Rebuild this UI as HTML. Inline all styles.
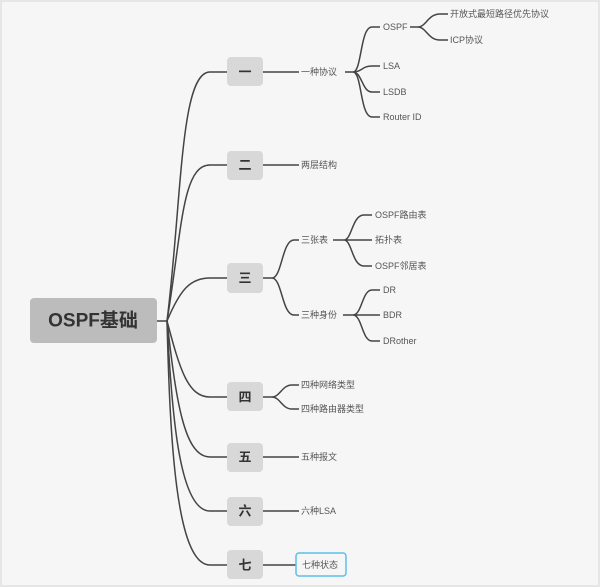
<!DOCTYPE html>
<html><head><meta charset="utf-8"><style>
html,body{margin:0;padding:0;background:#f6f6f6;}
svg{display:block}
text{font-family:"Liberation Sans","Noto Sans CJK SC",sans-serif;fill:#555;font-size:9px;dominant-baseline:central}
</style></head><body>
<svg width="600" height="587" viewBox="0 0 600 587" xmlns="http://www.w3.org/2000/svg">
<rect x="0" y="0" width="600" height="587" fill="#f6f6f6"/>
<rect x="1" y="1" width="598" height="585" fill="none" stroke="#e6e6e6" stroke-width="2"/>
<g fill="none" stroke="#444" stroke-width="1.5">
<path d="M157,321 L167,321"/>
<path d="M167,321 C182,200 180,72 210,72 L227,72"/>
<path d="M167,321 C182,230 182,165 210,165 L227,165"/>
<path d="M167,321 C180,290 190,278 210,278 L227,278"/>
<path d="M167,321 C180,370 188,397 210,397 L227,397"/>
<path d="M167,321 C176,400 184,457 210,457 L227,457"/>
<path d="M167,321 C172,420 180,511 210,511 L227,511"/>
<path d="M167,321 C170,440 176,565 210,565 L227,565"/>
<!-- level 2 -->
<path d="M263,72 L299,72"/>
<path d="M263,165 L299,165"/>
<path d="M263,278 L272,278 M272,278 C282,278 282,240 294,240 L299,240 M272,278 C282,278 282,315 294,315 L299,315"/>
<path d="M263,397 L272,397 M272,397 C280,397 282,385 292,385 L299,385 M272,397 C280,397 282,409 292,409 L299,409"/>
<path d="M263,457 L299,457"/>
<path d="M263,511 L299,511"/>
<path d="M263,565 L296,565"/>
<!-- 一种协议 children -->
<path d="M345,72 L353,72 M353,72 C362,72 360,27 372,27 L380,27 M353,72 C362,72 362,66 372,66 L380,66 M353,72 C362,72 362,92 372,92 L380,92 M353,72 C362,72 360,117 372,117 L380,117"/>
<path d="M410,27 L418,27 M418,27 C426,27 428,14 440,14 L448,14 M418,27 C426,27 428,40 440,40 L448,40"/>
<!-- 三张表 -->
<path d="M333,240 L344,240 M344,240 C352,240 352,215 364,215 L372,215 M344,240 L372,240 M344,240 C352,240 352,266 364,266 L372,266"/>
<!-- 三种身份 -->
<path d="M343,315 L353,315 M353,315 C362,315 362,290 372,290 L380,290 M353,315 L380,315 M353,315 C362,315 362,341 372,341 L380,341"/>
</g>
<rect x="30" y="298" width="127" height="45" rx="4" fill="#bcbcbc"/>
<text x="93" y="321" text-anchor="middle" style="font-size:19px;font-weight:bold;fill:#333">OSPF基础</text>
<g fill="#d8d8d8">
<rect x="227" y="57" width="36" height="29" rx="4"/>
<rect x="227" y="151" width="36" height="29" rx="4"/>
<rect x="227" y="263" width="36" height="30" rx="4"/>
<rect x="227" y="382" width="36" height="29" rx="4"/>
<rect x="227" y="443" width="36" height="29" rx="4"/>
<rect x="227" y="497" width="36" height="29" rx="4"/>
<rect x="227" y="550" width="36" height="29" rx="4"/>
</g>
<g style="font-size:13px;font-weight:bold" text-anchor="middle">
<text x="245" y="72" style="font-size:13px;font-weight:bold;fill:#333">一</text>
<text x="245" y="165" style="font-size:13px;font-weight:bold;fill:#333">二</text>
<text x="245" y="278" style="font-size:13px;font-weight:bold;fill:#333">三</text>
<text x="245" y="397" style="font-size:13px;font-weight:bold;fill:#333">四</text>
<text x="245" y="457" style="font-size:13px;font-weight:bold;fill:#333">五</text>
<text x="245" y="511" style="font-size:13px;font-weight:bold;fill:#333">六</text>
<text x="245" y="565" style="font-size:13px;font-weight:bold;fill:#333">七</text>
</g>
<text x="301" y="72">一种协议</text>
<text x="383" y="27">OSPF</text>
<text x="383" y="66">LSA</text>
<text x="383" y="92">LSDB</text>
<text x="383" y="117">Router ID</text>
<text x="450" y="14">开放式最短路径优先协议</text>
<text x="450" y="40">ICP协议</text>
<text x="301" y="165">两层结构</text>
<text x="301" y="240">三张表</text>
<text x="375" y="215">OSPF路由表</text>
<text x="375" y="240">拓扑表</text>
<text x="375" y="266">OSPF邻居表</text>
<text x="301" y="315">三种身份</text>
<text x="383" y="290">DR</text>
<text x="383" y="315">BDR</text>
<text x="383" y="341">DRother</text>
<text x="301" y="385">四种网络类型</text>
<text x="301" y="409">四种路由器类型</text>
<text x="301" y="457">五种报文</text>
<text x="301" y="511">六种LSA</text>
<rect x="296" y="553" width="50" height="23" rx="3" fill="none" stroke="#5bbfe8" stroke-width="1.5"/>
<text x="302" y="565">七种状态</text>
</svg>
</body></html>
